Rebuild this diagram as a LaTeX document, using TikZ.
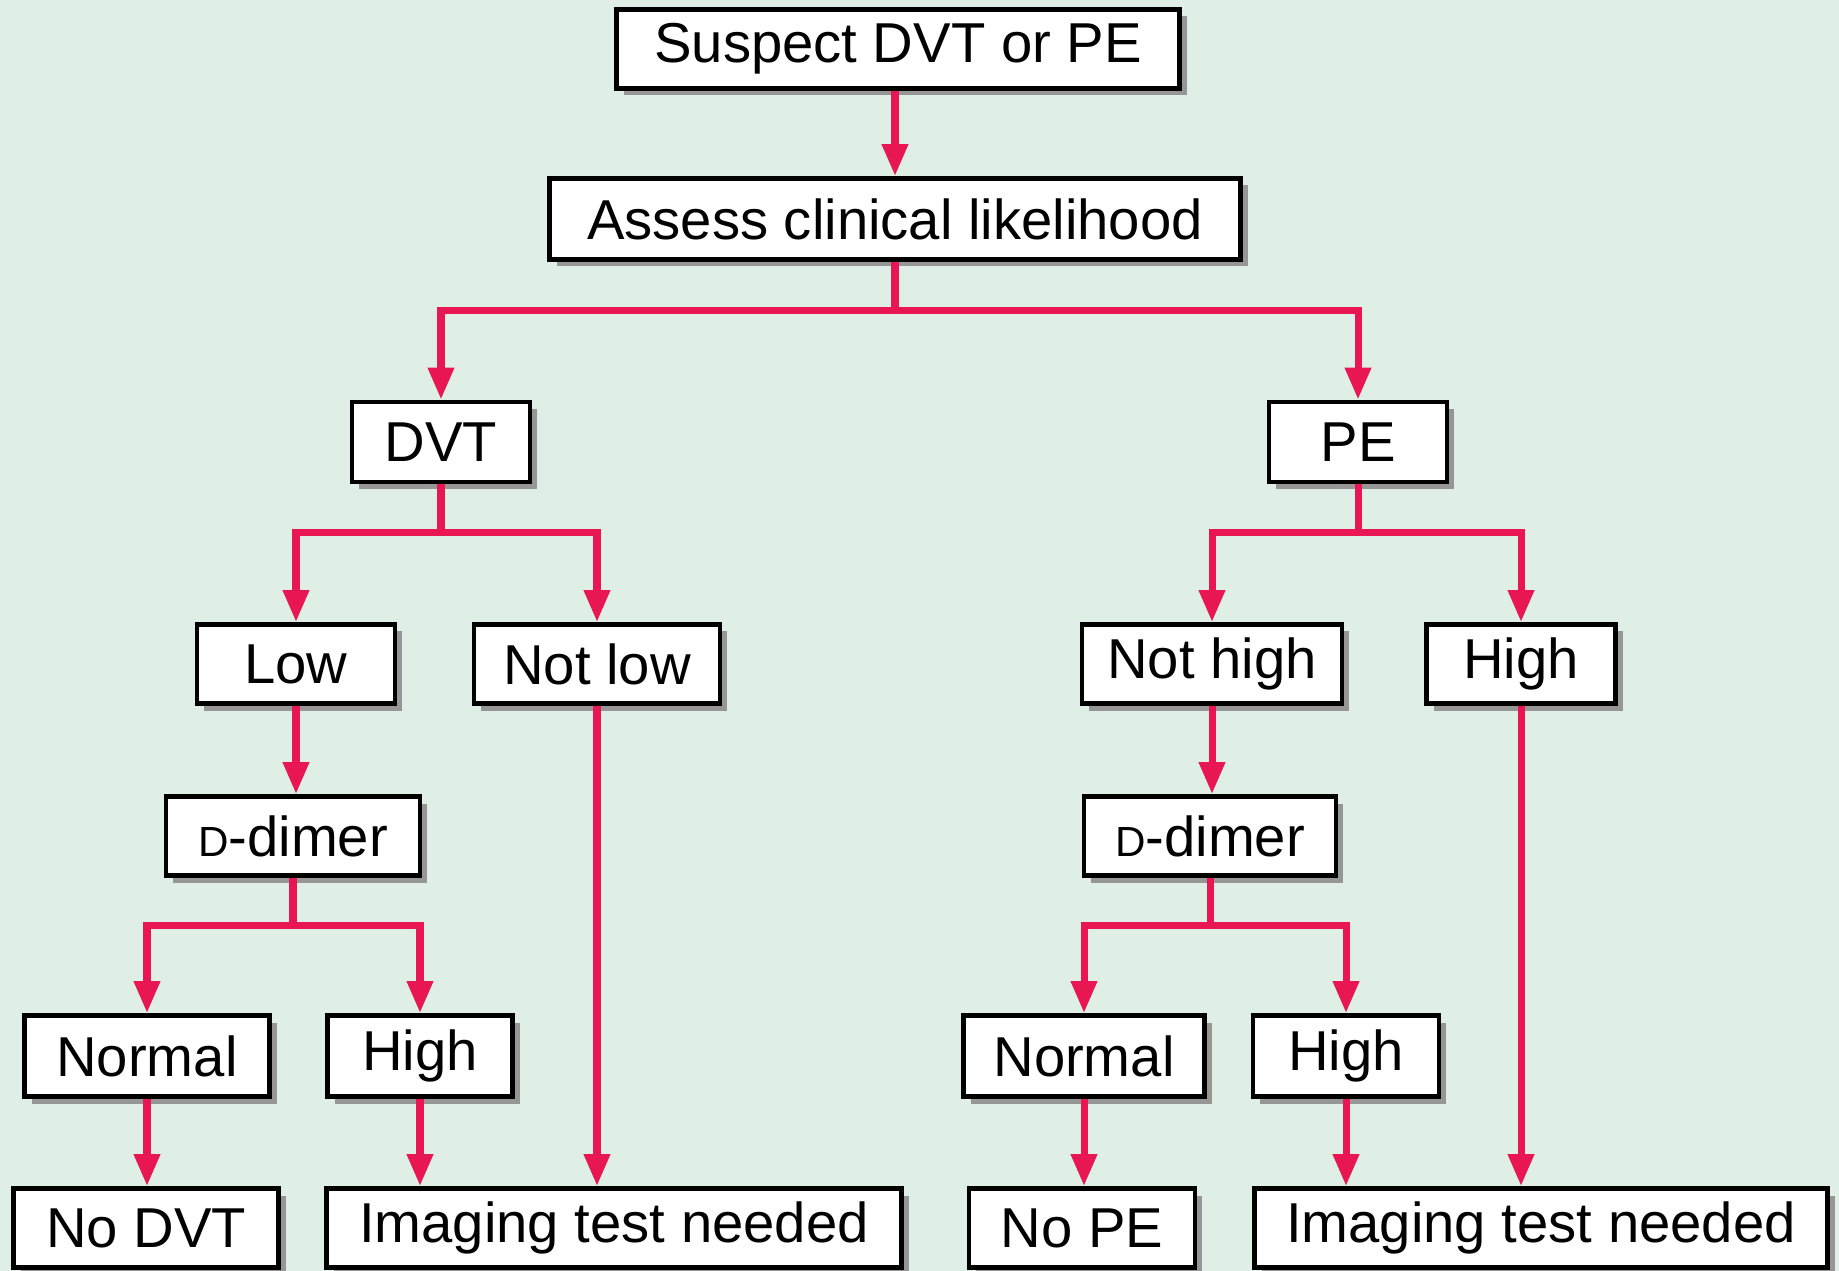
\documentclass[tikz,border=0pt]{standalone}
\usepackage{fontspec}
\setmainfont{Liberation Sans}
\usetikzlibrary{shadows, arrows.meta, positioning, calc}
\definecolor{mintbg}{RGB}{223,239,229}
\definecolor{crimsonline}{RGB}{232,22,82}
\definecolor{shadowgray}{RGB}{150,150,150}
\newcommand{\dd}{{\fontsize{12pt}{12pt}\selectfont D}-dimer}

\tikzset{
  box/.style={draw=black, line width=1.4pt, fill=white, minimum width=#1,
    minimum height=0.79cm, inner sep=0pt, font=\fontsize{16pt}{18pt}\selectfont,
    drop shadow={shadow xshift=0.07cm, shadow yshift=-0.07cm, fill=shadowgray, opacity=1}},
  arr/.style={draw=crimsonline, line width=2pt,
    -{Triangle[width=0.25cm,length=0.32cm]}}
}

\begin{document}
\begin{tikzpicture}
\fill[mintbg] (0,0) rectangle (18.39,-12.71);
\useasboundingbox (0,0) rectangle (18.39,-12.71);

% top
\node (suspect)[box=5.63cm] at (8.98,-0.49) {Suspect DVT or PE};
\node (assess)[box=6.91cm, minimum height=0.81cm] at (8.95,-2.19) {Assess clinical likelihood};

% second level
\node (dvt)[box=1.78cm, minimum height=0.8cm] at (4.41,-4.42) {DVT};
\node (pe)[box=1.78cm, minimum height=0.8cm] at (13.58,-4.42) {PE};

% third level
\node (low)[box=1.98cm] at (2.96,-6.64) {Low};
\node (notlow)[box=2.46cm] at (5.97,-6.64) {Not low};
\node (nothigh)[box=2.60cm] at (12.12,-6.64) {Not high};
\node (highpe)[box=1.89cm] at (15.21,-6.64) {High};

% d-dimer
\node (ddl)[box=2.54cm] at (2.93,-8.36) {\dd};
\node (ddr)[box=2.52cm] at (12.10,-8.36) {\dd};

% results
\node (norml)[box=2.45cm, minimum height=0.81cm] at (1.47,-10.56) {Normal};
\node (highl)[box=1.85cm, minimum height=0.81cm] at (4.20,-10.56) {High};
\node (normr)[box=2.41cm, minimum height=0.81cm] at (10.84,-10.56) {Normal};
\node (highr)[box=1.86cm, minimum height=0.81cm] at (13.46,-10.56) {High};

% bottom row
\node (nodvt)[box=2.65cm] at (1.46,-12.28) {No DVT};
\node (imgl)[box=5.75cm] at (6.14,-12.28) {Imaging test needed};
\node (nope)[box=2.26cm] at (10.82,-12.28) {No PE};
\node (imgr)[box=5.73cm] at (15.41,-12.28) {Imaging test needed};

% connectors
\draw[arr] (suspect.south -| assess.north) -- (assess.north);
\draw[arr] (assess.south) -- ++(0,-0.49) -| (dvt.north);
\draw[arr] (assess.south) -- ++(0,-0.49) -| (pe.north);
\draw[arr] (dvt.south) -- ++(0,-0.48) -| (low.north);
\draw[arr] (dvt.south) -- ++(0,-0.48) -| (notlow.north);
\draw[arr] (pe.south) -- ++(0,-0.48) -| (nothigh.north);
\draw[arr] (pe.south) -- ++(0,-0.48) -| (highpe.north);
\draw[arr] (low.south) -- (low.south |- ddl.north);
\draw[arr] (nothigh.south) -- (nothigh.south |- ddr.north);
\draw[arr] (ddl.south) -- ++(0,-0.48) -| (norml.north);
\draw[arr] (ddl.south) -- ++(0,-0.48) -| (highl.north);
\draw[arr] (ddr.south) -- ++(0,-0.48) -| (normr.north);
\draw[arr] (ddr.south) -- ++(0,-0.48) -| (highr.north);
\draw[arr] (norml.south) -- (norml.south |- nodvt.north);
\draw[arr] (highl.south) -- (highl.south |- imgl.north);
\draw[arr] (notlow.south) -- (notlow.south |- imgl.north);
\draw[arr] (normr.south) -- (normr.south |- nope.north);
\draw[arr] (highr.south) -- (highr.south |- imgr.north);
\draw[arr] (highpe.south) -- (highpe.south |- imgr.north);

\end{tikzpicture}
\end{document}
